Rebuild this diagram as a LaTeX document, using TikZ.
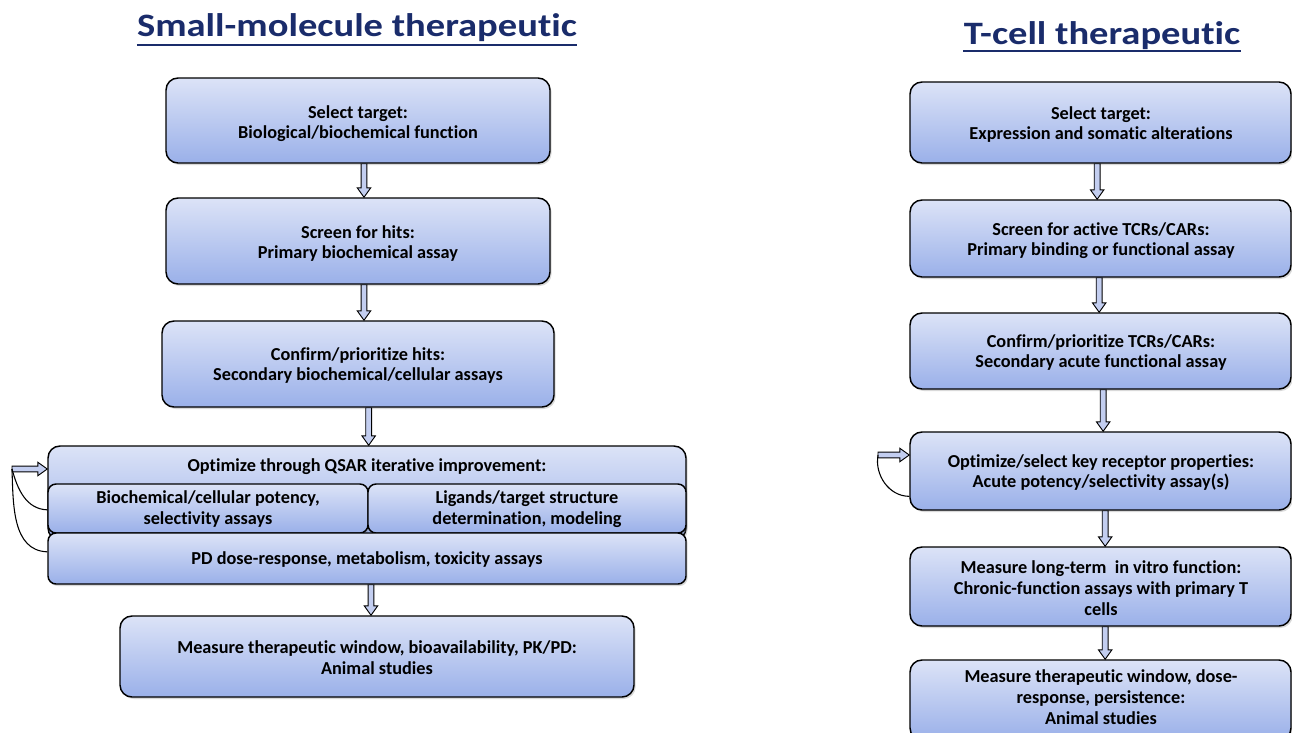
\documentclass[tikz,border=0pt]{standalone}
\usepackage{fontspec}
\setmainfont{Carlito}[Ligatures=NoCommon]
\usetikzlibrary{fit,calc,shadows}
\definecolor{boxtop}{HTML}{DCE3F7}
\definecolor{boxbot}{HTML}{9AB0E9}
\definecolor{arrfill}{HTML}{C3CEF0}
\definecolor{titleblue}{HTML}{1A2C6B}
\newcommand{\boxfont}{\fontsize{13.7}{15.5}\selectfont\bfseries}
\begin{document}
\begin{tikzpicture}[x=0.75pt,y=-0.75pt,
  box/.style={draw=black, line width=1.1pt, rounded corners=9pt,
    top color=boxtop, bottom color=boxbot, inner sep=0pt,
    drop shadow={shadow xshift=1.2pt, shadow yshift=-1.5pt, opacity=0.3}},
  subbox/.style={box, rounded corners=6pt},
  txt/.style={inner sep=0pt, align=center, font=\boxfont},
  title/.style={inner sep=0pt, text=titleblue, xscale=1.18, anchor=base,
    font=\fontsize{24.5}{28}\selectfont\bfseries},
  uline/.style={draw=titleblue, line width=1.4pt},
  varrow/.style={draw=black, line width=0.7pt, fill=arrfill,
    to path={let \p1=(\tikztostart), \p2=(\tikztotarget) in
      ({\x1-2.2pt},\y1) -- ({\x1+2.2pt},\y1) -- ({\x1+2.2pt},{\y2+7pt}) -- ({\x1+5pt},{\y2+7pt})
      -- (\x1,\y2) -- ({\x1-5pt},{\y2+7pt}) -- ({\x1-2.2pt},{\y2+7pt}) -- cycle}},
  harrow/.style={draw=black, line width=0.7pt, fill=arrfill,
    to path={let \p1=(\tikztostart), \p2=(\tikztotarget) in
      (\x1,{\y1+2.2pt}) -- ({\x2-7pt},{\y1+2.2pt}) -- ({\x2-7pt},{\y1+5pt}) -- (\x2,\y1)
      -- ({\x2-7pt},{\y1-5pt}) -- ({\x2-7pt},{\y1-2.2pt}) -- (\x1,{\y1-2.2pt}) -- cycle}},
  loop/.style={draw=black, line width=0.8pt}
]
\useasboundingbox (0,0) rectangle (1292,732);

% ---------- Left column ----------
\node[title] (tl) at (357,36) {Small-molecule therapeutic};
\draw[uline] (tl.base west |- 0,45) -- (tl.base east |- 0,45);

\node[box, fit={(166,78) (550,163)}] (l1) {};
\node[txt] (l1t) at (358,123.5) {Select target:\\Biological/biochemical function};
\node[box, fit={(166,198) (550,284)}] (l2) {};
\node[txt] (l2t) at (358,243.5) {Screen for hits:\\Primary biochemical assay};
\node[box, fit={(162,321) (554,407)}] (l3) {};
\node[txt] (l3t) at (358,365.5) {Confirm/prioritize hits:\\Secondary biochemical/cellular assays};

\node[box, fit={(48,446) (686,540)}] (opt) {};
\node[txt] (opthead) at (367,467) {Optimize through QSAR iterative improvement:};
\node[subbox, fit={(48,484) (368,533)}] (sub1) {};
\node[txt] (sub1t) at (208,509) {Biochemical/cellular potency,\\selectivity assays};
\node[subbox, fit={(368,484) (686,533)}] (sub2) {};
\node[txt] (sub2t) at (527,509) {Ligands/target structure\\determination, modeling};
\node[subbox, fit={(48,533) (686,584)}] (bot) {};
\node[txt] (bott) at (367,560) {PD dose-response, metabolism, toxicity assays};

\node[box, fit={(120,616) (634,697)}] (l5) {};
\node[txt] (l5t) at (377,657.5) {Measure therapeutic window, bioavailability, PK/PD:\\Animal studies};

\path[varrow] ([xshift=4.5pt]l1.south) to (l2.north);
\path[varrow] ([xshift=4.5pt]l2.south) to (l3.north);
\path[varrow] ([xshift=8pt]l3.south) to (opt.north);
\path[varrow] ([xshift=3pt]bot.south) to (l5.north);

\coordinate (fbl) at (12,469);
\path[harrow] (fbl) to (opt.west |- fbl);
\draw[loop] (fbl) to[out=-75, in=178] ([yshift=-1pt]sub1.west);
\draw[loop] (fbl) to[out=-88, in=178] ([yshift=5pt]bot.west);

% ---------- Right column ----------
\node[title] (tr) at (1102,44) {T-cell therapeutic};
\draw[uline] (tr.base west |- 0,51) -- (tr.base east |- 0,51);

\node[box, fit={(910,82) (1291,163)}] (r1) {};
\node[txt] (r1t) at (1101,124.5) {Select target:\\Expression and somatic alterations};
\node[box, fit={(910,200) (1291,277)}] (r2) {};
\node[txt] (r2t) at (1101,240.5) {Screen for active TCRs/CARs:\\Primary binding or functional assay};
\node[box, fit={(910,313) (1291,389)}] (r3) {};
\node[txt] (r3t) at (1101,352.5) {Confirm/prioritize TCRs/CARs:\\Secondary acute functional assay};
\node[box, fit={(910,432) (1291,510)}] (r4) {};
\node[txt] (r4t) at (1101,472.5) {Optimize/select key receptor properties:\\Acute potency/selectivity assay(s)};
\node[box, fit={(910,547) (1291,626)}] (r5) {};
\node[txt] (r5t) at (1101,588) {Measure long-term\ \ in vitro function:\\Chronic-function assays with primary T\\cells};
\node[box, fit={(910,660) (1291,740)}] (r6) {};
\node[txt] (r6t) at (1101,697) {Measure therapeutic window, dose-\\response, persistence:\\Animal studies};

\path[varrow] ([xshift=-2.5pt]r1.south) to (r2.north);
\path[varrow] ([xshift=-1pt]r2.south) to (r3.north);
\path[varrow] ([xshift=2pt]r3.south) to (r4.north);
\path[varrow] ([xshift=3.5pt]r4.south) to (r5.north);
\path[varrow] ([xshift=3.5pt]r5.south) to (r6.north);

\coordinate (fbr) at (878,455);
\path[harrow] (fbr) to (r4.west |- fbr);
\draw[loop] (fbr) to[out=-100, in=180] ([yshift=-19pt]r4.west);
\end{tikzpicture}
\end{document}
